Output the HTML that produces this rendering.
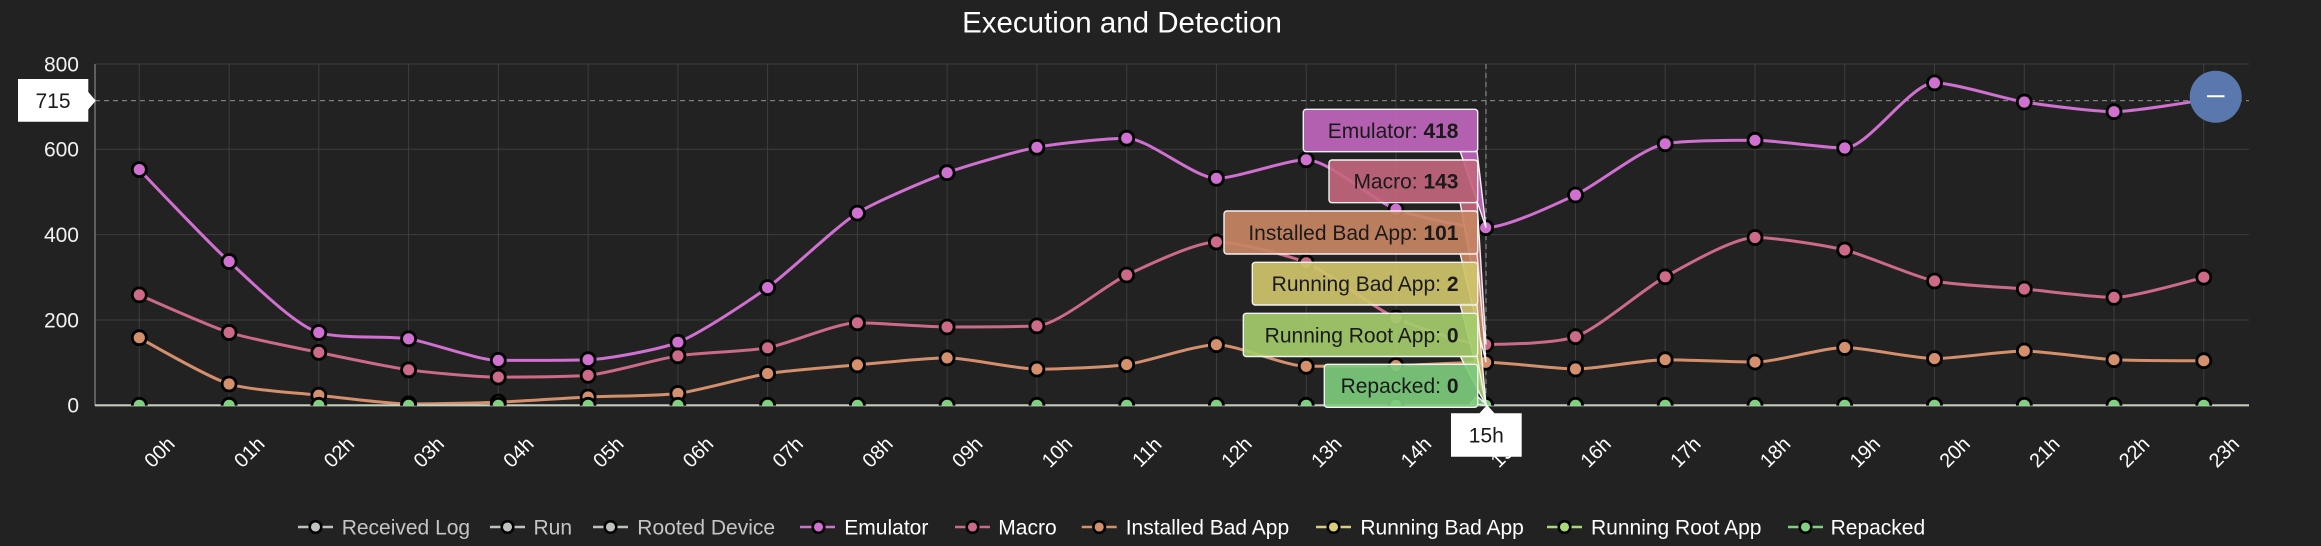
<!DOCTYPE html>
<html>
<head>
<meta charset="utf-8">
<style>
html,body{margin:0;padding:0;background:#222222;}
svg{display:block;font-family:"Liberation Sans",Arial,sans-serif;}
</style>
</head>
<body>
<svg id="chart" width="2321" height="546" viewBox="0 0 2321 546" xmlns="http://www.w3.org/2000/svg">
<defs>
<clipPath id="plotclip"><rect x="95" y="0" width="2154" height="405.6"/></clipPath>
</defs>
<rect x="0" y="0" width="2321" height="546" fill="#222222"/>

<!-- title -->
<text x="1122" y="22" dy="0.35em" text-anchor="middle" font-size="29.5" fill="#ffffff">Execution and Detection</text>

<!-- grid -->
<g stroke="#3e3e3e" stroke-width="1">
<line x1="95" y1="64" x2="2249" y2="64"/>
<line x1="95" y1="149.3" x2="2249" y2="149.3"/>
<line x1="95" y1="234.6" x2="2249" y2="234.6"/>
<line x1="95" y1="320" x2="2249" y2="320"/>
<line x1="139.3" y1="64" x2="139.3" y2="405"/>
<line x1="229.1" y1="64" x2="229.1" y2="405"/>
<line x1="318.8" y1="64" x2="318.8" y2="405"/>
<line x1="408.6" y1="64" x2="408.6" y2="405"/>
<line x1="498.3" y1="64" x2="498.3" y2="405"/>
<line x1="588.1" y1="64" x2="588.1" y2="405"/>
<line x1="677.9" y1="64" x2="677.9" y2="405"/>
<line x1="767.6" y1="64" x2="767.6" y2="405"/>
<line x1="857.4" y1="64" x2="857.4" y2="405"/>
<line x1="947.1" y1="64" x2="947.1" y2="405"/>
<line x1="1036.9" y1="64" x2="1036.9" y2="405"/>
<line x1="1126.7" y1="64" x2="1126.7" y2="405"/>
<line x1="1216.4" y1="64" x2="1216.4" y2="405"/>
<line x1="1306.2" y1="64" x2="1306.2" y2="405"/>
<line x1="1395.9" y1="64" x2="1395.9" y2="405"/>
<line x1="1485.7" y1="64" x2="1485.7" y2="405"/>
<line x1="1575.5" y1="64" x2="1575.5" y2="405"/>
<line x1="1665.2" y1="64" x2="1665.2" y2="405"/>
<line x1="1755.0" y1="64" x2="1755.0" y2="405"/>
<line x1="1844.7" y1="64" x2="1844.7" y2="405"/>
<line x1="1934.5" y1="64" x2="1934.5" y2="405"/>
<line x1="2024.3" y1="64" x2="2024.3" y2="405"/>
<line x1="2114.0" y1="64" x2="2114.0" y2="405"/>
<line x1="2203.8" y1="64" x2="2203.8" y2="405"/>
</g>
<line x1="95" y1="64" x2="95" y2="406" stroke="#9a9a9a" stroke-width="1"/>

<!-- y labels -->
<g font-size="21" fill="#f2f2f2" text-anchor="end">
<text x="79" y="64" dy="0.35em">800</text>
<text x="79" y="149.3" dy="0.35em">600</text>
<text x="79" y="234.6" dy="0.35em">400</text>
<text x="79" y="320" dy="0.35em">200</text>
<text x="79" y="405.3" dy="0.35em">0</text>
</g>

<!-- crosshairs -->
<line x1="95" y1="100.6" x2="2249" y2="100.6" stroke="#7d7d7d" stroke-width="1.3" stroke-dasharray="5,4"/>
<line x1="1486" y1="64" x2="1486" y2="405" stroke="#7d7d7d" stroke-width="1.3" stroke-dasharray="5,4"/>

<!-- series -->
<g clip-path="url(#plotclip)" fill="none" stroke-width="3" stroke-linejoin="round">
<path id="pE" stroke="#d070d0" d="M139.3 169.6 L229.1 261.5 L318.8 332.5 L408.6 338.8 L498.3 360.4 L588.1 359.7 L677.9 342.3 L767.6 287.6 L857.4 213.1 L947.1 172.7 L1036.9 147.3 L1126.7 138.2 L1216.4 178.3 L1306.2 159.8 L1395.9 209.3 L1485.7 227.7 L1575.5 195.0 L1665.2 143.8 L1755.0 140.3 L1844.7 148.0 L1934.5 82.9 L2024.3 102.0 L2114.0 111.7 L2203.8 99.8"/>
<path id="pM" stroke="#cc6a88" d="M139.3 294.9 L229.1 332.5 L318.8 352.4 L408.6 369.8 L498.3 377.1 L588.1 375.3 L677.9 355.8 L767.6 347.8 L857.4 322.8 L947.1 327.0 L1036.9 325.9 L1126.7 275.0 L1216.4 242.0 L1306.2 262.7 L1395.9 318.0 L1485.7 344.5 L1575.5 336.7 L1665.2 276.8 L1755.0 237.5 L1844.7 250.0 L1934.5 281.0 L2024.3 289.0 L2114.0 297.4 L2203.8 277.2"/>
<path id="pI" stroke="#d4906c" d="M139.3 337.7 L229.1 384.0 L318.8 395.2 L408.6 403.9 L498.3 402.2 L588.1 397.0 L677.9 393.5 L767.6 373.6 L857.4 364.9 L947.1 357.9 L1036.9 369.1 L1126.7 364.6 L1216.4 344.7 L1306.2 366.3 L1395.9 365.6 L1485.7 362.3 L1575.5 369.0 L1665.2 359.7 L1755.0 362.1 L1844.7 347.5 L1934.5 358.6 L2024.3 351.0 L2114.0 359.7 L2203.8 360.7"/>
</g>

<!-- x axis line -->
<line x1="95" y1="405.3" x2="2249" y2="405.3" stroke="#c4ccbc" stroke-width="2.2"/>

<!-- markers -->
<g clip-path="url(#plotclip)" stroke="#000" stroke-width="2.8">
<g fill="#d070d0">
<circle cx="139.3" cy="169.6" r="7"/><circle cx="229.1" cy="261.5" r="7"/><circle cx="318.8" cy="332.5" r="7"/><circle cx="408.6" cy="338.8" r="7"/><circle cx="498.3" cy="360.4" r="7"/><circle cx="588.1" cy="359.7" r="7"/><circle cx="677.9" cy="342.3" r="7"/><circle cx="767.6" cy="287.6" r="7"/><circle cx="857.4" cy="213.1" r="7"/><circle cx="947.1" cy="172.7" r="7"/><circle cx="1036.9" cy="147.3" r="7"/><circle cx="1126.7" cy="138.2" r="7"/><circle cx="1216.4" cy="178.3" r="7"/><circle cx="1306.2" cy="159.8" r="7"/><circle cx="1395.9" cy="209.3" r="7"/><circle cx="1485.7" cy="227.7" r="7"/><circle cx="1575.5" cy="195.0" r="7"/><circle cx="1665.2" cy="143.8" r="7"/><circle cx="1755.0" cy="140.3" r="7"/><circle cx="1844.7" cy="148.0" r="7"/><circle cx="1934.5" cy="82.9" r="7"/><circle cx="2024.3" cy="102.0" r="7"/><circle cx="2114.0" cy="111.7" r="7"/><circle cx="2203.8" cy="99.8" r="7"/>
</g>
<g fill="#cc6a88">
<circle cx="139.3" cy="294.9" r="7"/><circle cx="229.1" cy="332.5" r="7"/><circle cx="318.8" cy="352.4" r="7"/><circle cx="408.6" cy="369.8" r="7"/><circle cx="498.3" cy="377.1" r="7"/><circle cx="588.1" cy="375.3" r="7"/><circle cx="677.9" cy="355.8" r="7"/><circle cx="767.6" cy="347.8" r="7"/><circle cx="857.4" cy="322.8" r="7"/><circle cx="947.1" cy="327.0" r="7"/><circle cx="1036.9" cy="325.9" r="7"/><circle cx="1126.7" cy="275.0" r="7"/><circle cx="1216.4" cy="242.0" r="7"/><circle cx="1306.2" cy="262.7" r="7"/><circle cx="1395.9" cy="318.0" r="7"/><circle cx="1485.7" cy="344.5" r="7"/><circle cx="1575.5" cy="336.7" r="7"/><circle cx="1665.2" cy="276.8" r="7"/><circle cx="1755.0" cy="237.5" r="7"/><circle cx="1844.7" cy="250.0" r="7"/><circle cx="1934.5" cy="281.0" r="7"/><circle cx="2024.3" cy="289.0" r="7"/><circle cx="2114.0" cy="297.4" r="7"/><circle cx="2203.8" cy="277.2" r="7"/>
</g>
<g fill="#d4906c">
<circle cx="139.3" cy="337.7" r="7"/><circle cx="229.1" cy="384.0" r="7"/><circle cx="318.8" cy="395.2" r="7"/><circle cx="408.6" cy="403.9" r="7"/><circle cx="498.3" cy="402.2" r="7"/><circle cx="588.1" cy="397.0" r="7"/><circle cx="677.9" cy="393.5" r="7"/><circle cx="767.6" cy="373.6" r="7"/><circle cx="857.4" cy="364.9" r="7"/><circle cx="947.1" cy="357.9" r="7"/><circle cx="1036.9" cy="369.1" r="7"/><circle cx="1126.7" cy="364.6" r="7"/><circle cx="1216.4" cy="344.7" r="7"/><circle cx="1306.2" cy="366.3" r="7"/><circle cx="1395.9" cy="365.6" r="7"/><circle cx="1485.7" cy="362.3" r="7"/><circle cx="1575.5" cy="369.0" r="7"/><circle cx="1665.2" cy="359.7" r="7"/><circle cx="1755.0" cy="362.1" r="7"/><circle cx="1844.7" cy="347.5" r="7"/><circle cx="1934.5" cy="358.6" r="7"/><circle cx="2024.3" cy="351.0" r="7"/><circle cx="2114.0" cy="359.7" r="7"/><circle cx="2203.8" cy="360.7" r="7"/>
</g>
<g fill="#7fd07f">
<circle cx="139.3" cy="405.3" r="7"/><circle cx="229.1" cy="405.3" r="7"/><circle cx="318.8" cy="405.3" r="7"/><circle cx="408.6" cy="405.3" r="7"/><circle cx="498.3" cy="405.3" r="7"/><circle cx="588.1" cy="405.3" r="7"/><circle cx="677.9" cy="405.3" r="7"/><circle cx="767.6" cy="405.3" r="7"/><circle cx="857.4" cy="405.3" r="7"/><circle cx="947.1" cy="405.3" r="7"/><circle cx="1036.9" cy="405.3" r="7"/><circle cx="1126.7" cy="405.3" r="7"/><circle cx="1216.4" cy="405.3" r="7"/><circle cx="1306.2" cy="405.3" r="7"/><circle cx="1395.9" cy="405.3" r="7"/><circle cx="1485.7" cy="405.3" r="7"/><circle cx="1575.5" cy="405.3" r="7"/><circle cx="1665.2" cy="405.3" r="7"/><circle cx="1755.0" cy="405.3" r="7"/><circle cx="1844.7" cy="405.3" r="7"/><circle cx="1934.5" cy="405.3" r="7"/><circle cx="2024.3" cy="405.3" r="7"/><circle cx="2114.0" cy="405.3" r="7"/><circle cx="2203.8" cy="405.3" r="7"/>
</g>
</g>

<!-- x labels -->
<g font-size="20" fill="#ffffff" text-anchor="middle">
<text transform="translate(159.3 452) rotate(-45)" dy="0.35em">00h</text>
<text transform="translate(249.1 452) rotate(-45)" dy="0.35em">01h</text>
<text transform="translate(338.8 452) rotate(-45)" dy="0.35em">02h</text>
<text transform="translate(428.6 452) rotate(-45)" dy="0.35em">03h</text>
<text transform="translate(518.3 452) rotate(-45)" dy="0.35em">04h</text>
<text transform="translate(608.1 452) rotate(-45)" dy="0.35em">05h</text>
<text transform="translate(697.9 452) rotate(-45)" dy="0.35em">06h</text>
<text transform="translate(787.6 452) rotate(-45)" dy="0.35em">07h</text>
<text transform="translate(877.4 452) rotate(-45)" dy="0.35em">08h</text>
<text transform="translate(967.1 452) rotate(-45)" dy="0.35em">09h</text>
<text transform="translate(1056.9 452) rotate(-45)" dy="0.35em">10h</text>
<text transform="translate(1146.7 452) rotate(-45)" dy="0.35em">11h</text>
<text transform="translate(1236.4 452) rotate(-45)" dy="0.35em">12h</text>
<text transform="translate(1326.2 452) rotate(-45)" dy="0.35em">13h</text>
<text transform="translate(1415.9 452) rotate(-45)" dy="0.35em">14h</text>
<text transform="translate(1505.7 452) rotate(-45)" dy="0.35em">15h</text>
<text transform="translate(1595.5 452) rotate(-45)" dy="0.35em">16h</text>
<text transform="translate(1685.2 452) rotate(-45)" dy="0.35em">17h</text>
<text transform="translate(1775.0 452) rotate(-45)" dy="0.35em">18h</text>
<text transform="translate(1864.7 452) rotate(-45)" dy="0.35em">19h</text>
<text transform="translate(1954.5 452) rotate(-45)" dy="0.35em">20h</text>
<text transform="translate(2044.3 452) rotate(-45)" dy="0.35em">21h</text>
<text transform="translate(2134.0 452) rotate(-45)" dy="0.35em">22h</text>
<text transform="translate(2223.8 452) rotate(-45)" dy="0.35em">23h</text>
</g>

<!-- blue button -->
<circle cx="2215.7" cy="96.7" r="26" fill="#5b78ae"/>
<line x1="2207" y1="96.3" x2="2224.5" y2="96.3" stroke="#ffffff" stroke-width="2"/>

<!-- tooltips -->
<g stroke="#f2f2f2" stroke-width="1.4" fill-opacity="0.92">
<polygon points="1460,151 1477,151 1486,227.7" fill="#c066be"/>
<rect x="1303.3" y="109.3" width="174.4" height="42.4" rx="3" fill="#c066be"/>
<polygon points="1460,202 1477,202 1486,344.5" fill="#c3667e"/>
<rect x="1329" y="160" width="148.7" height="42.7" rx="3" fill="#c3667e"/>
<polygon points="1460,253 1477,253 1486,362.3" fill="#c88563"/>
<rect x="1224" y="211" width="253.7" height="43" rx="3" fill="#c88563"/>
<polygon points="1460,304 1477,304 1486,404.7" fill="#cfc46b"/>
<rect x="1252.3" y="262.3" width="225.4" height="42.7" rx="3" fill="#cfc46b"/>
<polygon points="1460,356 1477,356 1486,405.3" fill="#a4cc6b"/>
<rect x="1243.3" y="313.3" width="234.4" height="43.2" rx="3" fill="#a4cc6b"/>
<polygon points="1470,404 1477,396 1487,405.3" fill="#7dcb7c"/>
<rect x="1324.3" y="364.3" width="153.4" height="43" rx="3" fill="#7dcb7c"/>
</g>
<g font-size="21" fill="#1a1a1a" text-anchor="end">
<text x="1458.5" y="130.5" dy="0.35em">Emulator: <tspan font-weight="bold">418</tspan></text>
<text x="1458.5" y="181.3" dy="0.35em">Macro: <tspan font-weight="bold">143</tspan></text>
<text x="1458.5" y="232.5" dy="0.35em">Installed Bad App: <tspan font-weight="bold">101</tspan></text>
<text x="1458.5" y="283.6" dy="0.35em">Running Bad App: <tspan font-weight="bold">2</tspan></text>
<text x="1458.5" y="335" dy="0.35em">Running Root App: <tspan font-weight="bold">0</tspan></text>
<text x="1458.5" y="385.8" dy="0.35em">Repacked: <tspan font-weight="bold">0</tspan></text>
</g>

<!-- y crosshair label -->
<path d="M18 79 H88.3 V92 L95.7 100.7 L88.3 109.4 V121.7 H18 Z" fill="#ffffff"/>
<text x="53" y="100.7" dy="0.35em" text-anchor="middle" font-size="21" fill="#1a1a1a">715</text>

<!-- x crosshair label -->
<path d="M1451 413.3 H1479.5 L1487 405 L1494.5 413.3 H1521.7 V456.7 H1451 Z" fill="#ffffff"/>
<text x="1486.3" y="435" dy="0.35em" text-anchor="middle" font-size="21" fill="#1a1a1a">15h</text>

<!-- legend -->
<g font-size="21">
<g stroke="#bfc3bd" stroke-width="2.5"><line x1="298" y1="527" x2="333" y2="527"/></g>
<circle cx="315.5" cy="527" r="5.8" fill="#bfc3bd" stroke="#000" stroke-width="2.5"/>
<text x="341.7" y="527" dy="0.35em" fill="#c3c6c2">Received Log</text>

<g stroke="#bfc3bd" stroke-width="2.5"><line x1="490" y1="527" x2="525" y2="527"/></g>
<circle cx="507.5" cy="527" r="5.8" fill="#bfc3bd" stroke="#000" stroke-width="2.5"/>
<text x="533.5" y="527" dy="0.35em" fill="#c3c6c2">Run</text>

<g stroke="#bfc3bd" stroke-width="2.5"><line x1="593" y1="527" x2="628" y2="527"/></g>
<circle cx="610.5" cy="527" r="5.8" fill="#bfc3bd" stroke="#000" stroke-width="2.5"/>
<text x="637.3" y="527" dy="0.35em" fill="#c3c6c2">Rooted Device</text>

<g stroke="#d070d0" stroke-width="2.5"><line x1="800" y1="527" x2="835" y2="527"/></g>
<circle cx="818.5" cy="527" r="5.8" fill="#d070d0" stroke="#000" stroke-width="2.5"/>
<text x="844.3" y="527" dy="0.35em" fill="#ffffff">Emulator</text>

<g stroke="#cc6a88" stroke-width="2.5"><line x1="955" y1="527" x2="990" y2="527"/></g>
<circle cx="972.5" cy="527" r="5.8" fill="#cc6a88" stroke="#000" stroke-width="2.5"/>
<text x="998.3" y="527" dy="0.35em" fill="#ffffff">Macro</text>

<g stroke="#d4906c" stroke-width="2.5"><line x1="1081.7" y1="527" x2="1116.7" y2="527"/></g>
<circle cx="1099.2" cy="527" r="5.8" fill="#d4906c" stroke="#000" stroke-width="2.5"/>
<text x="1125.7" y="527" dy="0.35em" fill="#ffffff">Installed Bad App</text>

<g stroke="#d8cf78" stroke-width="2.5"><line x1="1316" y1="527" x2="1351" y2="527"/></g>
<circle cx="1333.5" cy="527" r="5.8" fill="#d8cf78" stroke="#000" stroke-width="2.5"/>
<text x="1360.4" y="527" dy="0.35em" fill="#ffffff">Running Bad App</text>

<g stroke="#a9d878" stroke-width="2.5"><line x1="1547" y1="527" x2="1582" y2="527"/></g>
<circle cx="1564.5" cy="527" r="5.8" fill="#a9d878" stroke="#000" stroke-width="2.5"/>
<text x="1591" y="527" dy="0.35em" fill="#ffffff">Running Root App</text>

<g stroke="#7fd07f" stroke-width="2.5"><line x1="1788" y1="527" x2="1823" y2="527"/></g>
<circle cx="1805.5" cy="527" r="5.8" fill="#7fd07f" stroke="#000" stroke-width="2.5"/>
<text x="1830.6" y="527" dy="0.35em" fill="#ffffff">Repacked</text>
</g>
</svg>
<script>
(function(){
  var X=function(i){return 139.3+i*89.76;};
  var data={
    pE:[169.6,261.5,332.5,338.8,360.4,359.7,342.3,287.6,213.1,172.7,147.3,138.2,178.3,159.8,209.3,227.7,195.0,143.8,140.3,148.0,82.9,102.0,111.7,99.8],
    pM:[294.9,332.5,352.4,369.8,377.1,375.3,355.8,347.8,322.8,327.0,325.9,275.0,242.0,262.7,318.0,344.5,336.7,276.8,237.5,250.0,281.0,289.0,297.4,277.2],
    pI:[337.7,384.0,395.2,403.9,402.2,397.0,393.5,373.6,364.9,357.9,369.1,364.6,344.7,366.3,365.6,362.3,369.0,359.7,362.1,347.5,358.6,351.0,359.7,360.7]
  };
  function spline(ys){
    var n=ys.length,pts=[],i,k=0.22;
    for(i=0;i<n;i++)pts.push([X(i),ys[i]]);
    var L=[],R=[];
    for(i=0;i<n;i++){
      var x=pts[i][0],y=pts[i][1];
      if(i===0||i===n-1){L.push([x,y]);R.push([x,y]);continue;}
      var lx=pts[i-1][0],ly=pts[i-1][1],nx=pts[i+1][0],ny=pts[i+1][1];
      var lcx=x+(lx-x)*k,lcy=y+(ly-y)*k,rcx=x+(nx-x)*k,rcy=y+(ny-y)*k;
      var dl=Math.hypot(lcx-x,lcy-y),dr=Math.hypot(rcx-x,rcy-y);
      var la=Math.atan2(lcy-y,lcx-x),ra=Math.atan2(rcy-y,rcx-x);
      var ja=Math.PI/2+(la+ra)/2;
      if(Math.abs(la-ja)>Math.PI/2)ja-=Math.PI;
      lcx=x+Math.cos(ja)*dl;lcy=y+Math.sin(ja)*dl;
      rcx=x+Math.cos(Math.PI+ja)*dr;rcy=y+Math.sin(Math.PI+ja)*dr;
      if(lcy>Math.max(ly,y)){lcy=Math.max(ly,y);rcy=2*y-lcy;}
      else if(lcy<Math.min(ly,y)){lcy=Math.min(ly,y);rcy=2*y-lcy;}
      if(rcy>Math.max(ny,y)){rcy=Math.max(ny,y);lcy=2*y-rcy;}
      else if(rcy<Math.min(ny,y)){rcy=Math.min(ny,y);lcy=2*y-rcy;}
      L.push([lcx,lcy]);R.push([rcx,rcy]);
    }
    var d='M'+pts[0][0].toFixed(1)+' '+pts[0][1].toFixed(1);
    for(i=1;i<n;i++){
      d+=' C'+R[i-1][0].toFixed(1)+' '+R[i-1][1].toFixed(1)+' '+L[i][0].toFixed(1)+' '+L[i][1].toFixed(1)+' '+pts[i][0].toFixed(1)+' '+pts[i][1].toFixed(1);
    }
    return d;
  }
  for(var key in data){
    var el=document.getElementById(key);
    if(el)el.setAttribute('d',spline(data[key]));
  }
})();
</script>
</body>
</html>
